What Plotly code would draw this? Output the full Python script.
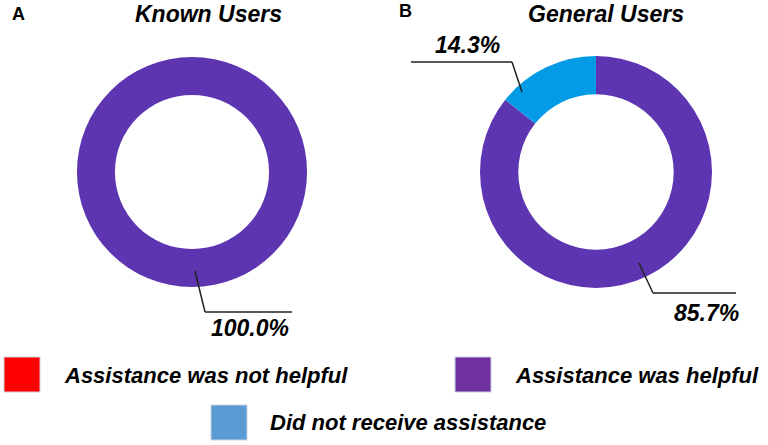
import plotly.graph_objects as go

# Data
categories = ["Assistance was not helpful", "Assistance was helpful", "Did not receive assistance"]
known_users = [0, 100.0, 0]
general_users = [0, 85.7, 14.3]
slice_colors = ["#FF0000", "#5E35B1", "#039BE5"]
legend_colors = ["#FF0000", "#7030A0", "#5B9BD5"]

W, H = 768, 445
FONT = "Liberation Sans"


def px(x):
    return x / W


def py(y):
    return 1 - y / H


fig = go.Figure()

fig.add_trace(go.Pie(
    labels=categories, values=known_users, hole=0.67, sort=False,
    direction="clockwise", textinfo="none", hoverinfo="label+percent",
    marker=dict(colors=slice_colors, line=dict(width=0)),
    domain=dict(x=[px(77), px(307)], y=[py(287), py(57)]),
    showlegend=False,
))
fig.add_trace(go.Pie(
    labels=categories, values=general_users, hole=0.67, sort=False,
    direction="clockwise", textinfo="none", hoverinfo="label+percent",
    marker=dict(colors=slice_colors, line=dict(width=0)),
    domain=dict(x=[px(480), px(712)], y=[py(288), py(56)]),
    showlegend=False,
))

shapes = []
annotations = []


def text(x, y, s, size=23, bold=True, italic=True, xanchor="center"):
    if italic:
        s = f"<i>{s}</i>"
    if bold:
        s = f"<b>{s}</b>"
    annotations.append(dict(
        x=px(x), y=py(y), xref="paper", yref="paper", text=s, showarrow=False,
        xanchor=xanchor, yanchor="middle",
        font=dict(family=FONT, size=size, color="black"),
    ))


def leader(points):
    for (x0, y0), (x1, y1) in zip(points[:-1], points[1:]):
        shapes.append(dict(type="line", xref="paper", yref="paper",
                           x0=px(x0), y0=py(y0), x1=px(x1), y1=py(y1),
                           line=dict(color="#222222", width=1.5)))


# panel letters and titles
text(18, 14, "A", size=18, italic=False)
text(405, 11, "B", size=18, italic=False)
text(208, 14, "Known Users")
text(606, 14, "General Users")

# percentage labels with leader lines
leader([(195, 271), (205, 312), (292, 312)])
text(250, 328, f"{known_users[1]:.1f}%")

leader([(522, 92), (512, 62), (411, 62)])
text(467, 45, f"{general_users[2]:.1f}%")

leader([(639, 263), (653, 293), (736, 293)])
text(706, 313, f"{general_users[1]:.1f}%")

# custom legend
legend_pos = [(4, 357, 62, 375), (455, 357, 513, 375), (211, 405, 268, 422)]
for (sx, sy, tx, ty), lab, col in zip(legend_pos, categories, legend_colors):
    shapes.append(dict(type="rect", xref="paper", yref="paper",
                       x0=px(sx), y0=py(sy + 35), x1=px(sx + 36), y1=py(sy),
                       fillcolor=col, line=dict(color="#C9D3E0", width=1)))
    text(tx, ty, lab, size=22, xanchor="left")

fig.update_layout(
    width=W, height=H,
    margin=dict(l=0, r=0, t=0, b=0),
    paper_bgcolor="white", plot_bgcolor="white",
    shapes=shapes, annotations=annotations,
    font=dict(family=FONT),
)

fig.write_html("out.html", config={"displayModeBar": False},
               post_script="document.body.style.margin='0';")
